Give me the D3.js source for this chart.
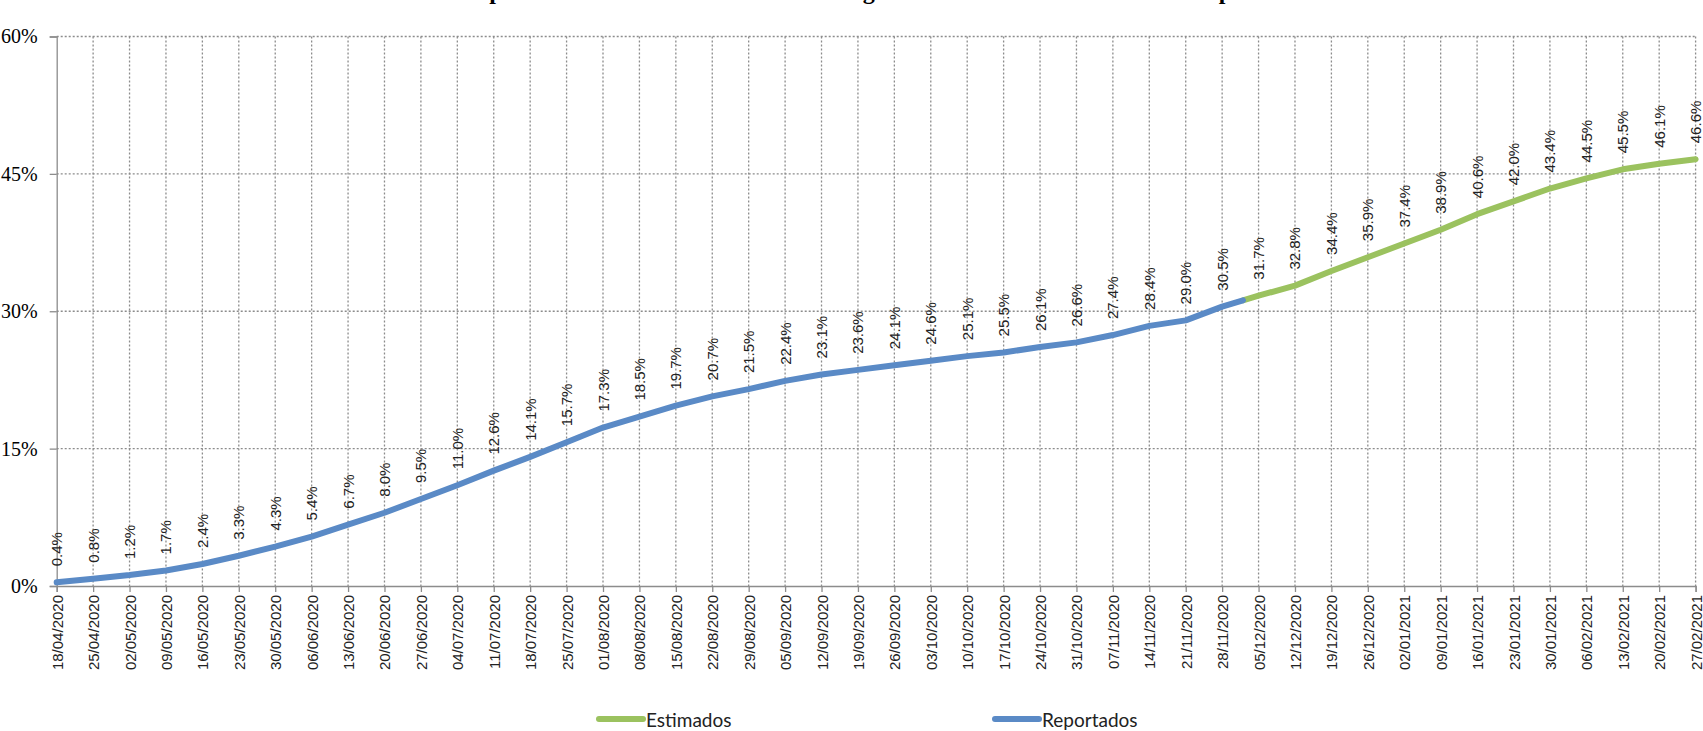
<!DOCTYPE html>
<html>
<head>
<meta charset="utf-8">
<script src="https://cdn.jsdelivr.net/npm/d3@7"></script>
<style>
  html, body { margin: 0; padding: 0; background: #fff; overflow: hidden; }
  #chart { width: 1703px; height: 731px; }
</style>
</head>
<body>
<div id="chart"></div>
<script>
// weekly dates (tick labels) and values
const weeks = [
  "18/04/2020", "25/04/2020", "02/05/2020", "09/05/2020", "16/05/2020", "23/05/2020",
  "30/05/2020", "06/06/2020", "13/06/2020", "20/06/2020", "27/06/2020", "04/07/2020",
  "11/07/2020", "18/07/2020", "25/07/2020", "01/08/2020", "08/08/2020", "15/08/2020",
  "22/08/2020", "29/08/2020", "05/09/2020", "12/09/2020", "19/09/2020", "26/09/2020",
  "03/10/2020", "10/10/2020", "17/10/2020", "24/10/2020", "31/10/2020", "07/11/2020",
  "14/11/2020", "21/11/2020", "28/11/2020", "05/12/2020", "12/12/2020", "19/12/2020",
  "26/12/2020", "02/01/2021", "09/01/2021", "16/01/2021", "23/01/2021", "30/01/2021",
  "06/02/2021", "13/02/2021", "20/02/2021", "27/02/2021"
];

const reportadosDates = weeks.slice(0, 33);
const reportadosValues = [
  0.4, 0.8, 1.2, 1.7, 2.4, 3.3, 4.3, 5.4, 6.7, 8.0, 9.5, 11.0, 12.6, 14.1, 15.7, 17.3,
  18.5, 19.7, 20.7, 21.5, 22.4, 23.1, 23.6, 24.1, 24.6, 25.1, 25.5, 26.1, 26.6, 27.4,
  28.4, 29.0, 30.5
];
const estimadosDates = weeks.slice(33);
const estimadosValues = [31.7, 32.8, 34.4, 35.9, 37.4, 38.9, 40.6, 42.0, 43.4, 44.5, 45.5, 46.1, 46.6];

// the reported line stops mid-week where the estimate takes over
const joinDate = "02/12/2020";
const joinValue = 31.2;

const yTicks = [0, 15, 30, 45, 60];

const width = 1703;
const height = 731;
const plot = { left: 56.7, right: 1695.6, top: 36.5, bottom: 586 };

const parse = d3.timeParse("%d/%m/%Y");
const blue = "#5a8ac6";
const green = "#9bc25f";
const gridColor = "#8c8c8c";

const svg = d3.select("#chart").append("svg")
  .attr("width", width)
  .attr("height", height);

const x = d3.scaleTime()
  .domain([parse(weeks[0]), parse(weeks[weeks.length - 1])])
  .range([plot.left, plot.right]);

const y = d3.scaleLinear()
  .domain([0, 60])
  .range([plot.bottom, plot.top]);

// title, only the descenders show at the top edge
svg.append("text")
  .attr("x", 326)
  .attr("y", -1)
  .attr("font-family", "'Liberation Serif', 'Times New Roman', serif")
  .attr("font-weight", "bold")
  .attr("font-size", 24)
  .attr("fill", "#000")
  .text("Evolución de la población total estimada como contagiada al cierre de cada semana del periodo");

// grid
const grid = svg.append("g").attr("class", "grid");
grid.selectAll(".hgrid")
  .data(yTicks.filter((d) => d > 0))
  .join("line")
  .attr("x1", plot.left)
  .attr("x2", plot.right)
  .attr("y1", (d) => y(d))
  .attr("y2", (d) => y(d))
  .attr("stroke", gridColor)
  .attr("stroke-width", 1.3)
  .attr("stroke-dasharray", "2,2");

grid.selectAll(".vgrid")
  .data(weeks.slice(1))
  .join("line")
  .attr("x1", (d) => x(parse(d)))
  .attr("x2", (d) => x(parse(d)))
  .attr("y1", plot.top)
  .attr("y2", plot.bottom)
  .attr("stroke", gridColor)
  .attr("stroke-width", 1.3)
  .attr("stroke-dasharray", "2,2");

// y axis
const yAxis = d3.axisLeft(y)
  .tickValues(yTicks)
  .tickSize(7)
  .tickPadding(12)
  .tickFormat((d) => d + "%");

svg.append("g")
  .attr("transform", `translate(${plot.left},0)`)
  .call(yAxis)
  .call((g) => g.select(".domain").attr("stroke", gridColor).attr("stroke-width", 1.3))
  .call((g) => g.selectAll(".tick line").attr("stroke", gridColor).attr("stroke-width", 1.3))
  .call((g) => g.selectAll(".tick text")
    .attr("font-family", "'Liberation Serif', 'Times New Roman', serif")
    .attr("font-size", 20)
    .attr("fill", "#000"));

// x axis
const xAxis = d3.axisBottom(x)
  .tickValues(weeks.map(parse))
  .tickSize(6)
  .tickFormat(d3.timeFormat("%d/%m/%Y"));

svg.append("g")
  .attr("transform", `translate(0,${plot.bottom})`)
  .call(xAxis)
  .call((g) => g.select(".domain").attr("stroke", gridColor).attr("stroke-width", 1.3))
  .call((g) => g.selectAll(".tick line").attr("stroke", gridColor).attr("stroke-width", 1.3))
  .call((g) => g.selectAll(".tick text")
    .attr("font-family", "'Liberation Sans', Arial, sans-serif")
    .attr("font-size", 15)
    .attr("fill", "#222")
    .attr("text-anchor", "end")
    .attr("dy", null)
    .attr("dominant-baseline", "central")
    .attr("transform", "rotate(-90)")
    .attr("x", -9)
    .attr("y", 0));

// lines
const line = d3.line()
  .x((d) => x(d.date))
  .y((d) => y(d.value));

const reportados = reportadosDates.map((d, i) => ({ date: parse(d), value: reportadosValues[i] }));
reportados.push({ date: parse(joinDate), value: joinValue });

const estimados = [{ date: parse(joinDate), value: joinValue }]
  .concat(estimadosDates.map((d, i) => ({ date: parse(d), value: estimadosValues[i] })));

svg.append("path")
  .datum(estimados)
  .attr("d", line)
  .attr("fill", "none")
  .attr("stroke", green)
  .attr("stroke-width", 6)
  .attr("stroke-linejoin", "round")
  .attr("stroke-linecap", "round");

svg.append("path")
  .datum(reportados)
  .attr("d", line)
  .attr("fill", "none")
  .attr("stroke", blue)
  .attr("stroke-width", 6)
  .attr("stroke-linejoin", "round")
  .attr("stroke-linecap", "round");

// data labels at each week
const labelled = reportadosDates.map((d, i) => ({ date: parse(d), value: reportadosValues[i] }))
  .concat(estimadosDates.map((d, i) => ({ date: parse(d), value: estimadosValues[i] })));

svg.append("g")
  .selectAll("text")
  .data(labelled)
  .join("text")
  .attr("transform", (d) => `translate(${x(d.date)},${y(d.value) - 16}) rotate(-90)`)
  .attr("dominant-baseline", "central")
  .attr("font-family", "'Liberation Sans', Arial, sans-serif")
  .attr("font-size", 15)
  .attr("fill", "#222")
  .text((d) => d.value.toFixed(1) + "%");

// legend
const legend = [
  { name: "Estimados", color: green, x: 599 },
  { name: "Reportados", color: blue, x: 995 }
];

const lg = svg.append("g").selectAll("g").data(legend).join("g")
  .attr("transform", (d) => `translate(${d.x},719)`);

lg.append("line")
  .attr("x1", 0)
  .attr("x2", 44)
  .attr("stroke", (d) => d.color)
  .attr("stroke-width", 6)
  .attr("stroke-linecap", "round");

lg.append("text")
  .attr("x", 47)
  .attr("dominant-baseline", "central")
  .attr("font-family", "Lato, 'Open Sans', sans-serif")
  .attr("font-size", 19)
  .attr("fill", "#222")
  .text((d) => d.name);
</script>
</body>
</html>
